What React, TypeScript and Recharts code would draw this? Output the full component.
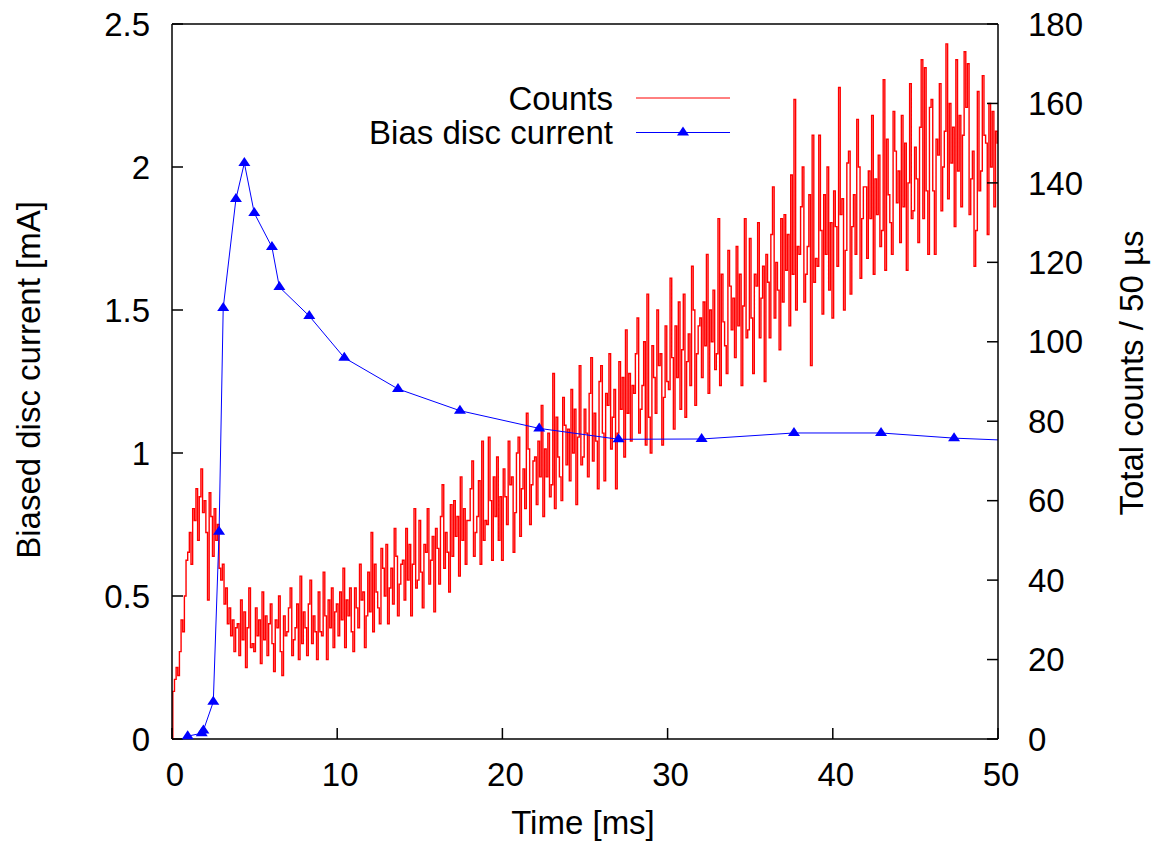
import React from 'react';
import { ComposedChart, Line, XAxis, YAxis, Legend } from 'recharts';

// counts per 50 us bin, sampled every 0.1 ms from 0 to 50 ms (one row = 1 ms)
const COUNT_BIN_MS = 0.1;
const counts = [
  0, 12, 15, 18, 16, 22, 30, 27, 36, 45,
  47, 52, 44, 58, 55, 63, 50, 61, 68, 57,
  60, 52, 35, 62, 56, 46, 58, 50, 54, 43,
  40, 44, 34, 38, 29, 33, 26, 30, 22, 28,
  29, 21, 35, 25, 32, 18, 28, 38, 23, 24,
  22, 33, 26, 30, 19, 37, 25, 31, 21, 29,
  34, 24, 17, 30, 28, 36, 22, 16, 31, 26,
  27, 33, 38, 21, 25, 28, 34, 20, 41, 24,
  32, 28, 21, 34, 40, 24, 31, 27, 20, 37,
  27, 26, 42, 31, 20, 35, 28, 38, 23, 32,
  34, 26, 37, 30, 43, 23, 35, 31, 38, 27,
  22, 38, 33, 28, 44, 35, 37, 23, 31, 42,
  32, 52, 27, 44, 37, 33, 29, 48, 43, 36,
  49, 29, 38, 43, 34, 53, 46, 31, 39, 44,
  45, 35, 53, 40, 49, 31, 44, 58, 38, 40,
  55, 42, 33, 49, 47, 58, 39, 45, 51, 32,
  53, 48, 39, 56, 64, 43, 52, 47, 37, 59,
  46, 60, 51, 56, 41, 66, 50, 58, 44, 55,
  55, 63, 70, 46, 52, 56, 65, 44, 75, 50,
  55, 54, 76, 60, 45, 66, 56, 71, 50, 61,
  45, 68, 61, 54, 75, 64, 66, 47, 57, 72,
  76, 51, 63, 68, 58, 82, 73, 54, 64, 70,
  71, 59, 75, 66, 84, 56, 73, 66, 77, 61,
  64, 92, 58, 81, 71, 66, 60, 86, 79, 69,
  78, 65, 88, 72, 83, 59, 76, 94, 69, 71,
  83, 77, 66, 87, 96, 70, 82, 75, 63, 90,
  94, 77, 65, 87, 84, 97, 73, 81, 88, 63,
  77, 95, 83, 91, 71, 103, 82, 92, 75, 89,
  87, 97, 106, 77, 83, 89, 100, 74, 112, 81,
  72, 99, 91, 82, 108, 94, 97, 74, 86, 104,
  90, 88, 116, 96, 78, 104, 91, 110, 83, 98,
  112, 81, 95, 102, 89, 119, 108, 84, 97, 104,
  106, 91, 110, 99, 122, 87, 108, 100, 113, 93,
  97, 131, 89, 117, 105, 99, 92, 123, 114, 103,
  111, 96, 124, 104, 117, 89, 109, 131, 101, 103,
  126, 106, 92, 117, 114, 130, 101, 111, 119, 90,
  122, 115, 101, 127, 139, 106, 120, 113, 98, 131,
  110, 132, 118, 127, 104, 142, 117, 161, 108, 124,
  122, 134, 144, 110, 117, 124, 137, 94, 152, 115,
  121, 119, 152, 128, 107, 137, 122, 144, 113, 130,
  106, 138, 129, 119, 164, 132, 136, 108, 123, 145,
  148, 112, 129, 137, 122, 156, 144, 116, 131, 139,
  139, 121, 143, 131, 157, 117, 141, 132, 147, 124,
  128, 166, 118, 151, 137, 130, 122, 158, 148, 135,
  143, 125, 157, 134, 150, 118, 140, 165, 131, 133,
  149, 141, 125, 154, 171, 131, 169, 138, 122, 159,
  161, 138, 122, 151, 147, 165, 133, 144, 153, 175,
  136, 160, 145, 154, 129, 171, 143, 157, 134, 152,
  173, 159, 170, 132, 141, 148, 119, 128, 163, 138,
  143, 167, 152, 150, 127, 160, 144, 158, 134, 153,
  150,
];

// biased disc current [mA]
const biasTime = [0.95, 1.8, 1.9, 2.5, 2.85, 3.1, 3.87, 4.38, 4.98, 6.05, 6.5, 8.31, 10.43, 13.68, 17.43, 22.23, 27.03, 32.06, 37.65, 42.92, 47.34, 52.5];
const biasCurrent = [0.01, 0.02, 0.03, 0.13, 0.725, 1.507, 1.888, 2.014, 1.839, 1.72, 1.58, 1.479, 1.333, 1.224, 1.148, 1.086, 1.048, 1.049, 1.07, 1.07, 1.052, 1.04];

const timeTicks = [0, 10, 20, 30, 40, 50];
const currentTicks = [0, 0.5, 1, 1.5, 2, 2.5];
const countTicks = [0, 20, 40, 60, 80, 100, 120, 140, 160, 180];

const countData = counts.map((c, i) => ({ t: Math.round(i * COUNT_BIN_MS * 10) / 10, counts: c }));
const biasData = biasTime.map((t, i) => ({ t, current: biasCurrent[i] }));

const FONT = '"Liberation Sans", Arial, Helvetica, sans-serif';
const FS = 33;
const tickStyle = { fill: '#000', fontSize: FS, fontFamily: FONT };
const lineStyle = { stroke: '#000', strokeWidth: 1.5 };

const Triangle = (props: any) => {
  const { cx, cy, index } = props;
  if (cx == null || cy == null) return <g key={`tri-${index}`} />;
  return (
    <polygon
      key={`tri-${index}`}
      points={`${cx - 6},${cy + 3} ${cx + 6},${cy + 3} ${cx},${cy - 6}`}
      fill="#0000ff"
    />
  );
};

const renderLegend = () => (
  <svg width={1158} height={170} style={{ display: 'block' }}>
    <text x={613} y={109.5} textAnchor="end" fontSize={FS} fontFamily={FONT} fill="#000">Counts</text>
    <line x1={636} x2={730} y1={98} y2={98} stroke="#ff0000" strokeWidth={1} />
    <text x={613} y={143.5} textAnchor="end" fontSize={FS} fontFamily={FONT} fill="#000">Bias disc current</text>
    <line x1={636} x2={730} y1={132.5} y2={132.5} stroke="#0000ff" strokeWidth={1} />
    <polygon points="677,135.5 689,135.5 683,126.5" fill="#0000ff" />
  </svg>
);

export default function App() {
  return (
    <div style={{ position: 'absolute', left: 0, top: 0, background: '#fff' }}>
      <ComposedChart width={1158} height={845} margin={{ top: 0, right: 0, bottom: 0, left: 0 }}>
        <XAxis
          xAxisId="bottom"
          type="number"
          dataKey="t"
          domain={[0, 50]}
          allowDataOverflow
          ticks={timeTicks}
          interval={0}
          height={106}
          tickSize={-11}
          tickMargin={35}
          tick={{ ...tickStyle, dx: 3 }}
          axisLine={lineStyle}
          tickLine={lineStyle}
          label={{
            content: () => (
              <text x={583} y={834} textAnchor="middle" fontSize={FS} fontFamily={FONT} fill="#000">Time [ms]</text>
            ),
          }}
        />
        <XAxis
          xAxisId="top"
          orientation="top"
          type="number"
          dataKey="t"
          domain={[0, 50]}
          allowDataOverflow
          ticks={timeTicks}
          interval={0}
          height={24}
          tickSize={-11}
          tick={false}
          axisLine={lineStyle}
          tickLine={lineStyle}
        />
        <YAxis
          yAxisId="left"
          type="number"
          domain={[0, 2.5]}
          ticks={currentTicks}
          interval={0}
          width={172}
          tickSize={-11}
          tickMargin={33}
          tick={tickStyle}
          axisLine={lineStyle}
          tickLine={lineStyle}
          label={{
            content: () => (
              <text x={40} y={380} transform="rotate(-90 40 380)" textAnchor="middle" fontSize={FS} fontFamily={FONT} fill="#000">
                Biased disc current [mA]
              </text>
            ),
          }}
        />
        <YAxis
          yAxisId="right"
          orientation="right"
          type="number"
          domain={[0, 180]}
          ticks={countTicks}
          interval={0}
          width={160}
          tickSize={-11}
          tickMargin={41}
          tick={tickStyle}
          axisLine={lineStyle}
          tickLine={lineStyle}
          label={{
            content: () => (
              <text x={1143} y={373} transform="rotate(-90 1143 373)" textAnchor="middle" fontSize={FS} fontFamily={FONT} fill="#000">
                Total counts / 50 µs
              </text>
            ),
          }}
        />
        <Legend
          content={renderLegend}
          layout="vertical"
          align="center"
          verticalAlign="middle"
          wrapperStyle={{ position: 'absolute', left: 0, top: 0, width: 1158, height: 170, pointerEvents: 'none' }}
        />
        <Line
          data={countData}
          dataKey="counts"
          xAxisId="bottom"
          yAxisId="right"
          type="step"
          stroke="#ff0000"
          strokeWidth={1.4}
          dot={false}
          activeDot={false}
          isAnimationActive={false}
        />
        <Line
          data={biasData}
          dataKey="current"
          xAxisId="bottom"
          yAxisId="left"
          type="linear"
          stroke="#0000ff"
          strokeWidth={1}
          dot={Triangle}
          activeDot={false}
          isAnimationActive={false}
        />
      </ComposedChart>
    </div>
  );
}
